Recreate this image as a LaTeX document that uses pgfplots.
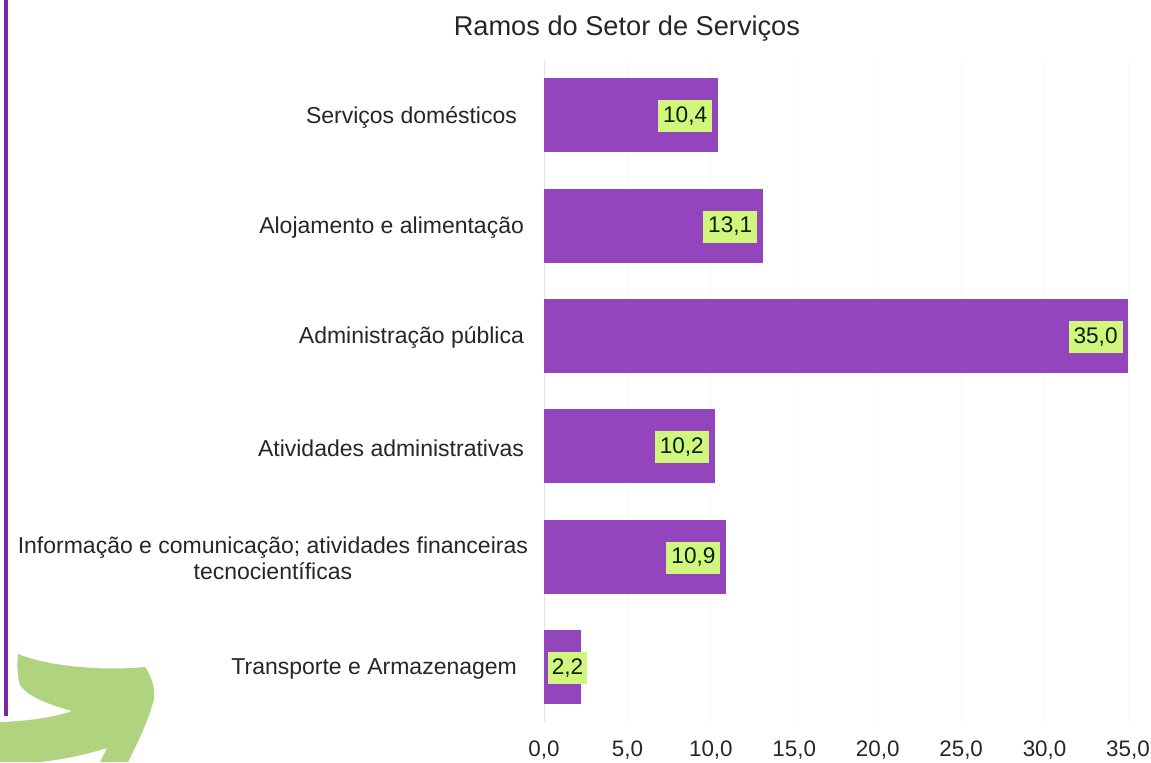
\documentclass[border=0pt]{standalone}
\usepackage{pgfplots}
\pgfplotsset{compat=1.18}
\usepackage{fontspec}
\setmainfont{Liberation Sans}
\definecolor{barc}{HTML}{9245BD}
\definecolor{boxc}{HTML}{D2F57E}
\definecolor{arrowc}{HTML}{B0D37F}
\definecolor{linec}{HTML}{7D23A8}
\definecolor{textc}{HTML}{262626}
\begin{document}
\begin{tikzpicture}
\useasboundingbox (0,0) rectangle (575.5pt,381pt);
\begin{scope}[shift={(0pt,381pt)},x=0.5pt,y=-0.5pt]
\fill[linec] (4,0) rectangle (8,716);
\fill[arrowc] (0,722) .. controls (30,721) and (55,717) .. (72,711)
  .. controls (50,705) and (28,697) .. (20,685)
  .. controls (17,675) and (17,663) .. (18,654)
  .. controls (50,667) and (105,671) .. (145,667)
  .. controls (152,677) and (155,688) .. (154,699)
  .. controls (148,722) and (138,742) .. (128,762)
  -- (100,762) -- (107,748)
  .. controls (85,755) and (60,760) .. (40,762)
  -- (0,762) -- cycle;
\end{scope}
\begin{axis}[
  at={(272pt,20pt)}, anchor=south west,
  scale only axis, width=292pt, height=331pt,
  xbar, bar width=36.5pt, bar shift=0pt,
  y dir=reverse,
  xmin=0, xmax=35, ymin=-0.5, ymax=5.5,
  xtick={0,5,10,15,20,25,30,35},
  ytick={0,1,2,3,4,5},
  yticklabels={{Serviços domésticos\hspace{3.5pt}},{Alojamento e alimentação},{Administração pública},{Atividades administrativas},{Informação e comunicação; atividades financeiras\kern-2pt\\tecnocientíficas\kern-2pt},{Transporte e Armazenagem\hspace{3.5pt}}},
  axis x line*=bottom, axis y line*=left,
  x axis line style={draw=none},
  y axis line style={draw=black!10, -},
  major tick length=0pt,
  xmajorgrids, grid style={draw=black!3},
  /pgf/number format/assume math mode=true,
  /pgf/number format/use comma,
  /pgf/number format/fixed,
  /pgf/number format/fixed zerofill,
  /pgf/number format/precision=1,
  tick label style={text=textc},
  yticklabel style={align=center, xshift=-6.5pt, yshift=-1pt, font=\fontsize{11.5pt}{13pt}\selectfont},
  xticklabel style={yshift=-6pt, font=\fontsize{11.2pt}{12.6pt}\selectfont},
  title={Ramos do Setor de Serviços},
  title style={at={(axis description cs:0.142,1.03)}, anchor=center, font=\fontsize{13.6pt}{15pt}\selectfont, text=textc},
  nodes near coords,
  point meta=x,
  nodes near coords style={anchor=east, xshift=-2.5pt, yshift=-0.5pt, fill=boxc, text=black!85!green,
    font=\fontsize{11.3pt}{12pt}\selectfont, inner xsep=2.5pt, inner ysep=0pt, minimum height=16pt},
]
\addplot[fill=barc, draw=barc] coordinates {(10.4,0) (13.1,1) (35.0,2) (10.2,3) (10.9,4)};
\addplot[fill=barc, draw=barc, nodes near coords style={xshift=6pt, inner xsep=2pt}] coordinates {(2.2,5)};
\end{axis}
\end{tikzpicture}
\end{document}
